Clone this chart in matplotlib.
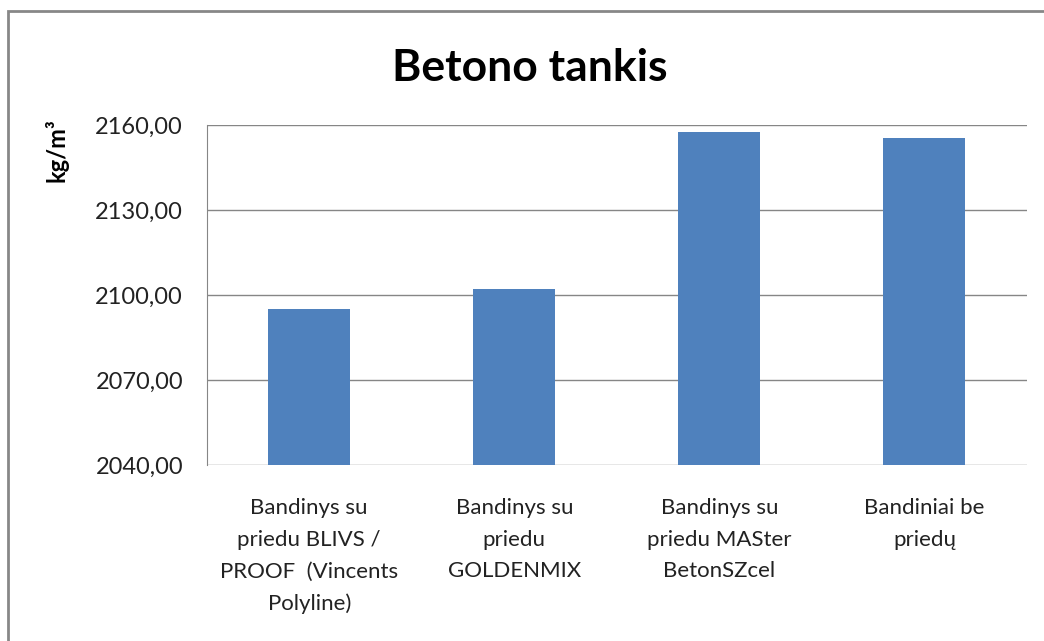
import matplotlib.pyplot as plt
from matplotlib.patches import Rectangle

categories = [
    "Bandinys su\npriedu BLIVS /\nPROOF  (Vincents\nPolyline)",
    "Bandinys su\npriedu\nGOLDENMIX",
    "Bandinys su\npriedu MASter\nBetonSZcel",
    "Bandiniai be\npriedų",
]
density = [2095.0, 2102.2, 2157.4, 2155.3]
yticks = [2040, 2070, 2100, 2130, 2160]
ytick_labels = ["2040,00", "2070,00", "2100,00", "2130,00", "2160,00"]

plt.rcParams['font.family'] = ['Lato', 'DejaVu Sans']

fig = plt.figure(figsize=(10.44, 6.41), dpi=100)
ax = fig.add_axes([206.7 / 1044, 1 - 465 / 641, (1027 - 206.7) / 1044, 340 / 641])

x = list(range(len(categories)))
ax.bar(x, density, width=0.4, color='#4f81bd', zorder=3)

ax.set_xlim(-0.5, len(categories) - 0.5)
ax.set_ylim(2040, 2160)
ax.set_yticks(yticks)
ax.set_yticklabels(ytick_labels, fontsize=17, color='#222222')
ax.set_xticks(x)
ax.set_xticklabels(categories, fontsize=16, color='#222222', linespacing=1.72)
ax.tick_params(axis='y', length=0, pad=17)
ax.tick_params(axis='x', length=0, pad=24)
ax.grid(axis='y', color='#868686', linewidth=1, zorder=0)
for side in ['top', 'right', 'bottom']:
    ax.spines[side].set_visible(False)
ax.spines['left'].set_color('#868686')

fig.text(530 / 1044, 1 - 68 / 641, "Betono tankis", fontsize=32, fontweight='bold',
         ha='center', va='center')
fig.text(57 / 1044, 1 - 150 / 641, "kg/m³", fontsize=17, fontweight='bold',
         rotation=90, ha='center', va='center')

fig.patches.append(Rectangle((8 / 1044, -0.1), 1.2, 1 - 11 / 641 + 0.1,
                             transform=fig.transFigure, fill=False,
                             edgecolor='#878787', linewidth=2))

fig.savefig("out.png", dpi=100)
